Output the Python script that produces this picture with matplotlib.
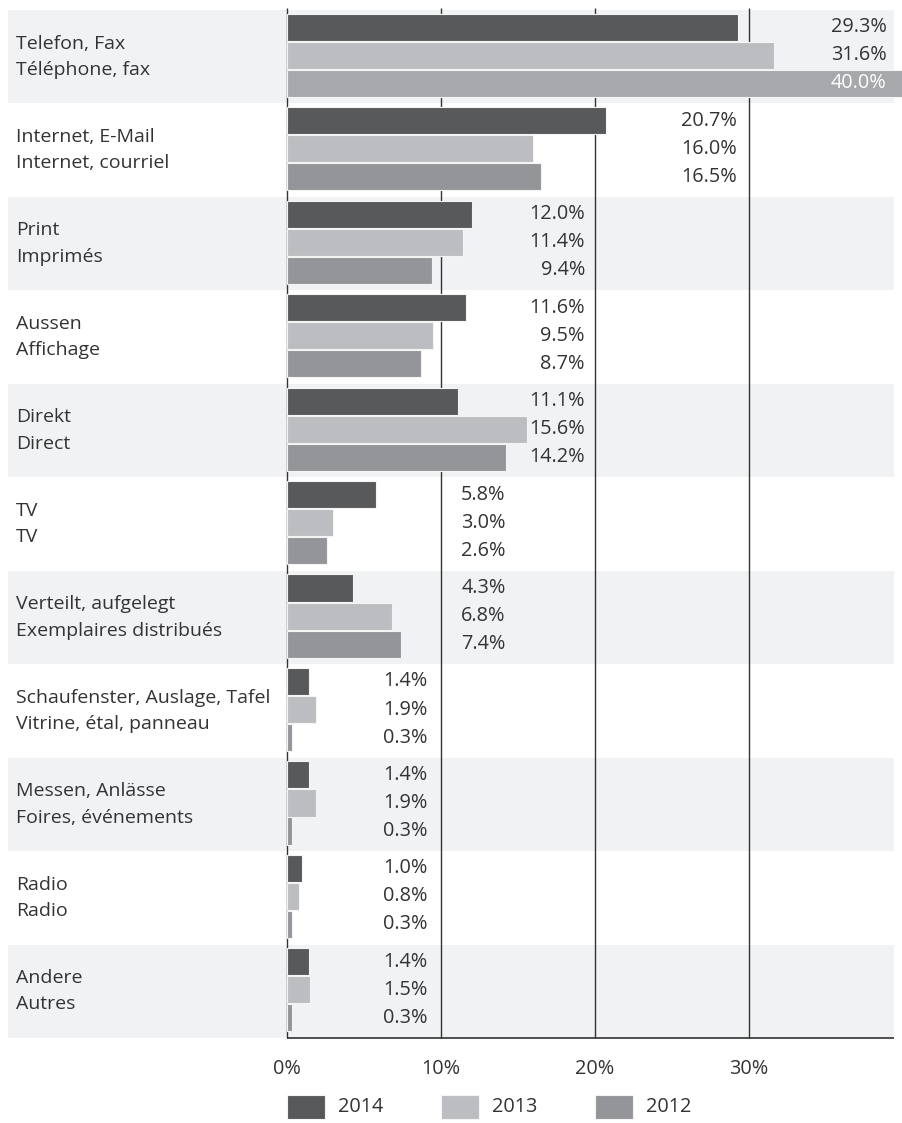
import matplotlib
matplotlib.use("Agg")
import matplotlib.pyplot as plt
from matplotlib.patches import Rectangle
from matplotlib.transforms import blended_transform_factory
import numpy as np

plt.rcParams['font.family'] = ['Open Sans', 'DejaVu Sans']

categories = [
    "Telefon, Fax\nTéléphone, fax",
    "Internet, E-Mail\nInternet, courriel",
    "Print\nImprimés",
    "Aussen\nAffichage",
    "Direkt\nDirect",
    "TV\nTV",
    "Verteilt, aufgelegt\nExemplaires distribués",
    "Schaufenster, Auslage, Tafel\nVitrine, étal, panneau",
    "Messen, Anlässe\nFoires, événements",
    "Radio\nRadio",
    "Andere\nAutres",
]
years = ["2014", "2013", "2012"]
v2014 = [29.3, 20.7, 12.0, 11.6, 11.1, 5.8, 4.3, 1.4, 1.4, 1.0, 1.4]
v2013 = [31.6, 16.0, 11.4, 9.5, 15.6, 3.0, 6.8, 1.9, 1.9, 0.8, 1.5]
v2012 = [40.0, 16.5, 9.4, 8.7, 14.2, 2.6, 7.4, 0.3, 0.3, 0.3, 0.3]
tick_values = [0, 10, 20, 30]
tick_labels = ["0%", "10%", "20%", "30%"]

# styling / layout
colors = ["#58595b", "#bcbdc0", "#939598"]
highlight_color = "#a7a8ab"   # the top 2012 bar is drawn lighter
label_right = [38.95, 29.2, 19.35, 19.35, 19.35, 14.2, 14.2, 9.1, 9.1, 9.1, 9.1]
text_color = "#333333"
band_color = "#f1f2f4"
fs_cat = 14.0
fs_val = 14.3

W, H = 902, 1123
fig = plt.figure(figsize=(W / 100, H / 100), dpi=100)
ax_left = 287 / W
ax_bottom = 1 - 1038 / H
ax_top = 1 - 10 / H
px_per_unit = 15.4
xmax = (W - 287) / px_per_unit
ax = fig.add_axes([ax_left, ax_bottom, 1 - ax_left, ax_top - ax_bottom])
ax.patch.set_visible(False)
ax.set_xlim(0, xmax)
n = len(categories)
ax.set_ylim(n, 0)
for s in ax.spines.values():
    s.set_visible(False)
ax.set_xticks([])
ax.set_yticks([])

# alternating background bands (extend beyond axes on the left)
x_band0 = (8 - 287) / px_per_unit
x_band1 = (894 - 287) / px_per_unit
for i in range(n):
    if i % 2 == 0:
        ax.add_patch(Rectangle((x_band0, i), x_band1 - x_band0, 1,
                               facecolor=band_color, edgecolor="none",
                               zorder=0, clip_on=False))

# gridlines
ax.vlines(tick_values, -0.022, n, colors=text_color, lw=1.0, zorder=1, clip_on=False)
ax.hlines(n, 0, x_band1, colors=text_color, lw=1.2, zorder=1, clip_on=False)

# bars
idx = np.arange(n)
offsets = [0.185, 0.485, 0.785]
bar_h = 0.29
series = [v2014, v2013, v2012]
for k, vals in enumerate(series):
    cols = [colors[k]] * n
    if k == 2:
        cols[0] = highlight_color
    ax.barh(idx + offsets[k], vals, height=bar_h, color=cols,
            edgecolor="#f4f4f4", linewidth=0.8, zorder=2, clip_on=False)
    for i, v in enumerate(vals):
        c = "white" if (v >= label_right[i]) else text_color
        ax.text(label_right[i], i + offsets[k], f"{v:.1f}%", ha="right",
                va="center", fontsize=fs_val, color=c, zorder=3)

# category labels
trans_y = blended_transform_factory(fig.transFigure, ax.transData)
for i, cat in enumerate(categories):
    ax.text(16 / W, i + 0.5, cat, transform=trans_y, ha="left", va="center",
            fontsize=fs_cat, color=text_color, linespacing=1.6, clip_on=False)

# tick labels
trans_x = blended_transform_factory(ax.transData, fig.transFigure)
for tv, tl in zip(tick_values, tick_labels):
    ax.text(tv, 1 - 1069 / H, tl, transform=trans_x, ha="center", va="center",
            fontsize=fs_val, color=text_color)

# legend
for k, yr in enumerate(years):
    x0 = tick_values[k]
    ax.add_patch(Rectangle((x0, 1 - 1119 / H), 38 / px_per_unit, 24 / H,
                           transform=trans_x, facecolor=colors[k],
                           edgecolor="#f4f4f4", lw=0.8, clip_on=False))
    ax.text(x0 + 51 / px_per_unit, 1 - 1107 / H, yr, transform=trans_x,
            ha="left", va="center", fontsize=fs_val, color=text_color)

fig.savefig("out.png", dpi=100)
